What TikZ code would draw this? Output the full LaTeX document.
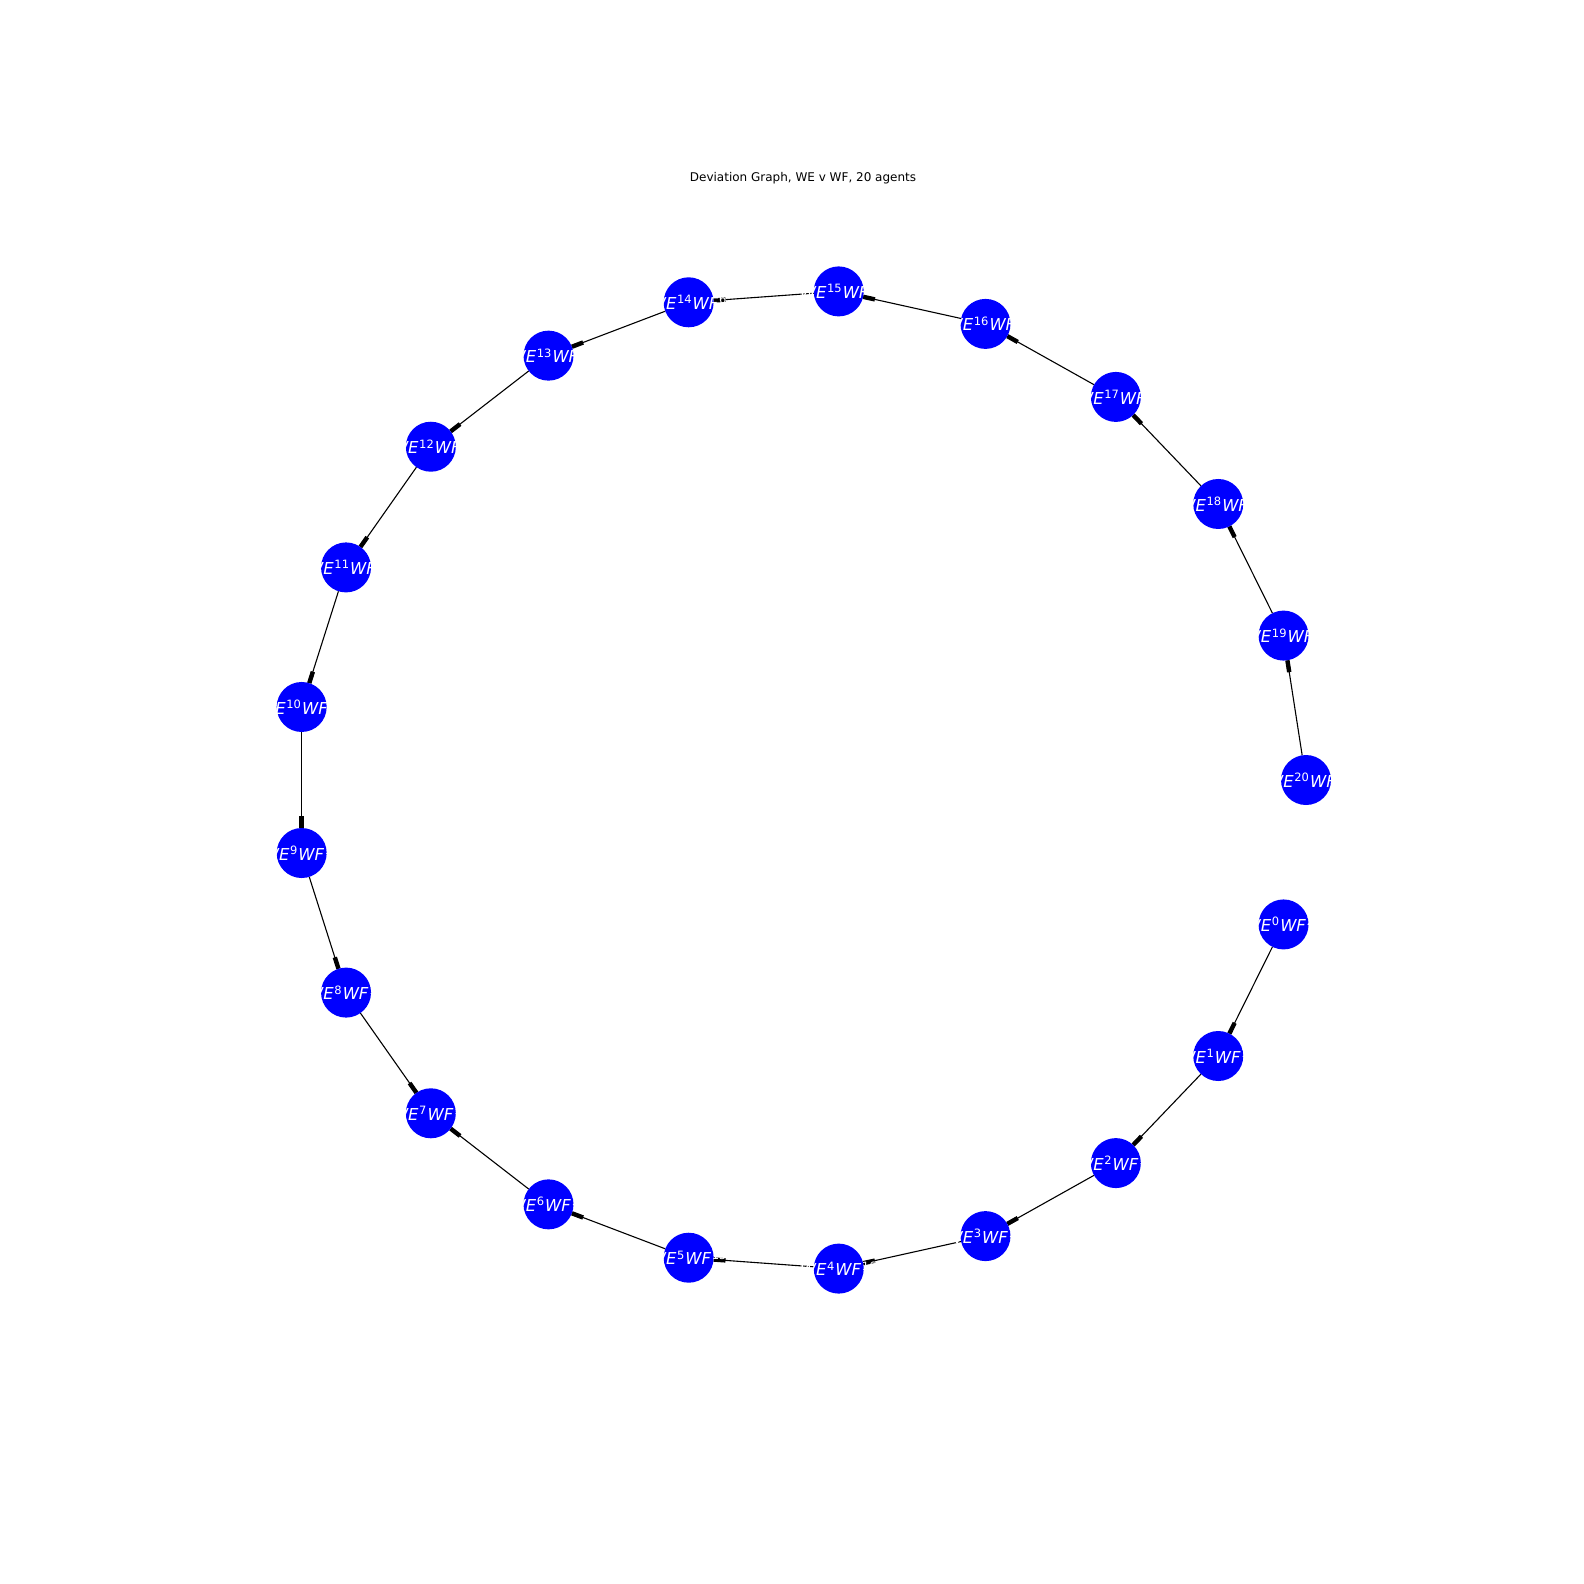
\documentclass[tikz,border=0pt]{standalone}
\usepackage{fontspec}
\setmainfont{DejaVu Sans}
\usetikzlibrary{arrows.meta,backgrounds}

\newcommand{\agentlabel}[2]{\textit{WE}\kern.04em\textsuperscript{#1}\textit{WF}\kern.04em\textsuperscript{#2}}

\begin{document}
\begin{tikzpicture}[
        x = 0.5pt, y = -0.5pt,
        outer sep = 0mm, inner sep = 0mm,
        agent/.style = {
          circle, fill = blue, minimum size = 25pt,
        },
        agenttext/.style = {
          text = white, font = \fontsize{8.2pt}{9pt}\selectfont,
        },
        dev/.style = {
          draw = black, line width = .55pt,
          -{Rectangle[length = 6pt, width = 2.2pt]},
        }
      ]

      \useasboundingbox (0,0) rectangle (1584,1584);

      \node[font = \fontsize{6pt}{7pt}\selectfont] (title) at (803,178)
        {Deviation Graph, WE v WF, 20 agents};

      % agents on an ellipse, k = number of WE
      \foreach \k in {0,...,20} {
        \pgfmathtruncatemacro{\r}{20-\k}
        \node[agent, label = {[agenttext]center:\agentlabel{\k}{\r}}] (n\k)
          at ({801+505*cos((\k+1)*360/21)}, {780+490*sin((\k+1)*360/21)}) {};
      }

      \begin{pgfonlayer}{background}
        \foreach \k in {0,...,6} {
          \pgfmathtruncatemacro{\j}{\k+1}
          \draw[dev] (n\k) to (n\j);
        }
        \foreach \k in {8,...,20} {
          \pgfmathtruncatemacro{\j}{\k-1}
          \draw[dev] (n\k) to (n\j);
        }
      \end{pgfonlayer}
    \end{tikzpicture}
\end{document}
